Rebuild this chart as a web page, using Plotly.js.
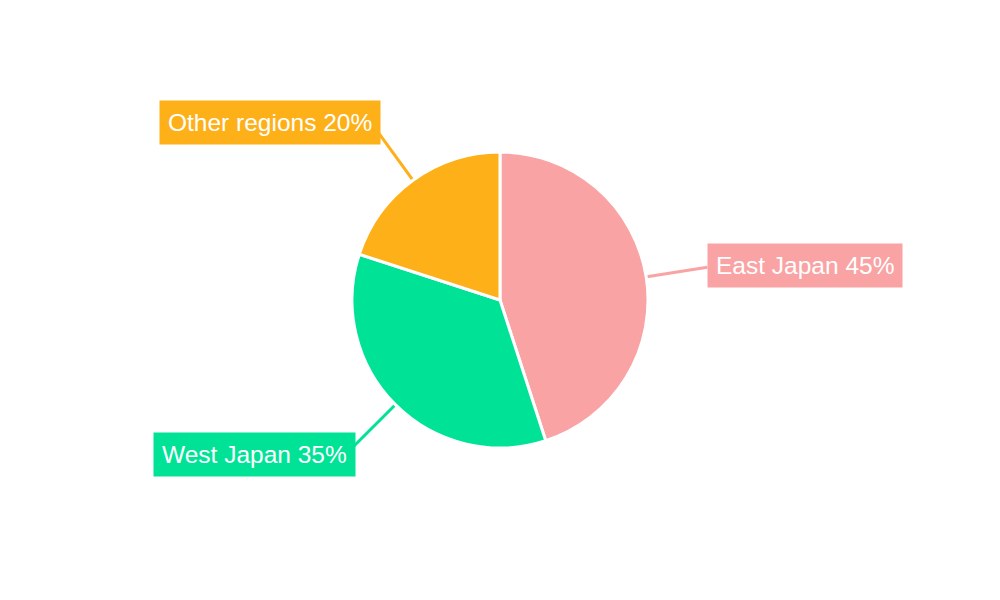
<!DOCTYPE html>
<html>
<head>
<meta charset="utf-8">
<script src="https://cdn.plot.ly/plotly-3.0.1.min.js"></script>
<style>
  html, body { margin: 0; padding: 0; background: #fff; }
  #myDiv { width: 1000px; height: 600px; }
</style>
</head>
<body>
<div id="myDiv"></div>
<script>
// data
let regions = ['East Japan', 'West Japan', 'Other regions']
let shares = [45, 35, 20]
let colors = ['#F9A3A4', '#00E396', '#FEB019']

// layout of the pie in pixels (margins are zero, so paper = page)
const W = 1000, H = 600
const cx = 500, cy = 300, R = 148
const lineEnd = 210

function toPaper(px, py) {
  return { x: px / W, y: 1 - py / H }
}

let total = shares.reduce((a, b) => a + b, 0)
let shapes = []
let annotations = []
let acc = 0

for (let i = 0; i < shares.length; i++) {
  // slice middle, measured clockwise from 12 o'clock
  let mid = (acc + shares[i] / 2) / total * 2 * Math.PI
  acc += shares[i]
  let s = Math.sin(mid), c = Math.cos(mid)
  let p0 = toPaper(cx + (R - 1) * s, cy - (R - 1) * c)
  let p1 = toPaper(cx + lineEnd * s, cy - lineEnd * c)

  shapes.push({
    type: 'line', xref: 'paper', yref: 'paper',
    x0: p0.x, y0: p0.y, x1: p1.x, y1: p1.y,
    line: { color: colors[i], width: 3 },
    layer: 'below'
  })

  // left-side boxes sit a little over the end of their line
  annotations.push({
    xref: 'paper', yref: 'paper',
    x: p1.x, y: p1.y,
    xanchor: s >= 0 ? 'left' : 'right',
    yanchor: 'middle',
    xshift: s >= 0 ? 0 : 4,
    yshift: 9 * c,
    text: regions[i] + ' ' + shares[i] + '%',
    showarrow: false,
    bgcolor: colors[i],
    borderpad: 8,
    font: { family: 'Arial, Liberation Sans, sans-serif', size: 24.5, color: '#ffffff' }
  })
}

let trace = {
  type: 'pie',
  labels: regions,
  values: shares,
  sort: false,
  direction: 'clockwise',
  rotation: 0,
  textinfo: 'none',
  hoverinfo: 'label+percent',
  marker: { colors: colors, line: { color: '#ffffff', width: 3 } },
  domain: {
    x: [(cx - R) / W, (cx + R) / W],
    y: [1 - (cy + R) / H, 1 - (cy - R) / H]
  }
}

let layout = {
  width: W,
  height: H,
  margin: { l: 0, r: 0, t: 0, b: 0 },
  showlegend: false,
  paper_bgcolor: '#ffffff',
  shapes: shapes,
  annotations: annotations
}

Plotly.newPlot('myDiv', [trace], layout, { displayModeBar: false })
</script>
</body>
</html>
